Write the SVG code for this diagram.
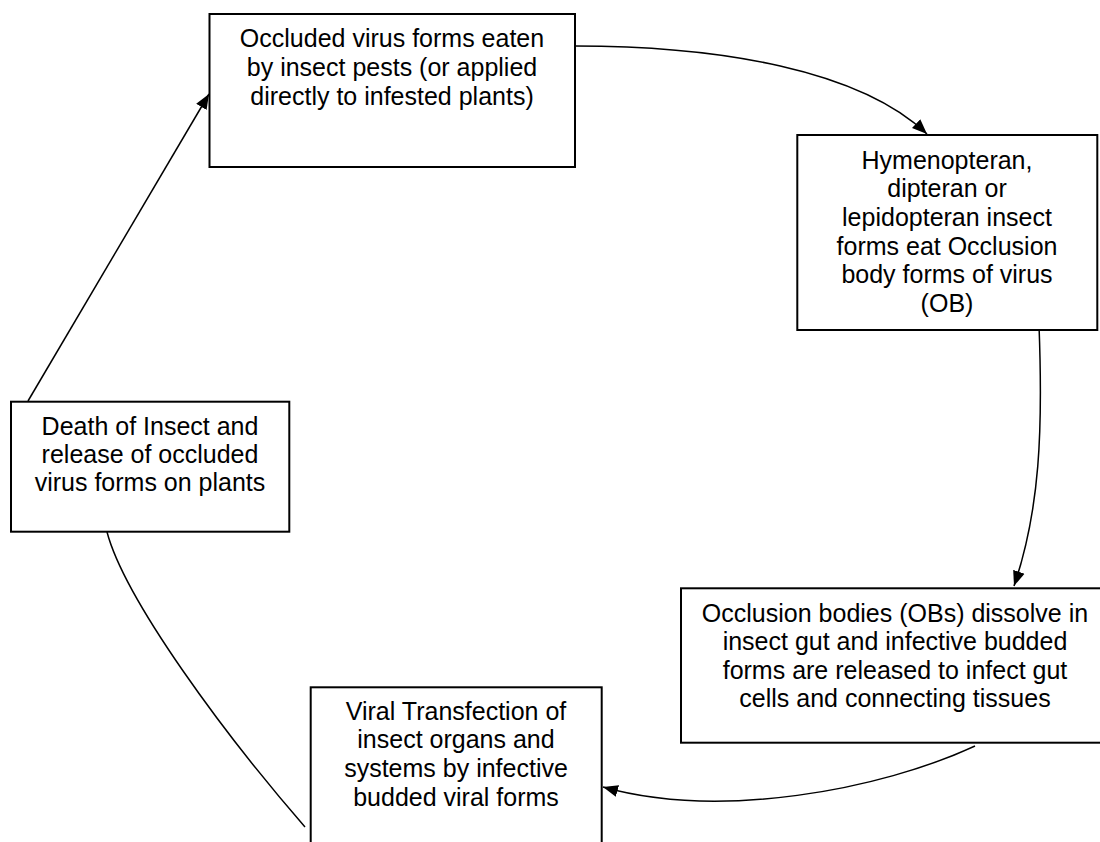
<svg xmlns="http://www.w3.org/2000/svg" width="1100" height="842" viewBox="0 0 1100 842">
<style>
.box{fill:#fff;stroke:#000;stroke-width:2}
.lbl{font-family:"Liberation Sans",Arial,sans-serif;font-size:25px;fill:#000;text-anchor:middle}
.con{fill:none;stroke:#000;stroke-width:1.5}
</style>
<defs>
<marker id="arr" markerUnits="userSpaceOnUse" markerWidth="18" markerHeight="14" refX="15" refY="7" orient="auto">
<path d="M0,1 L15,7 L0,13 Z" fill="#000"/>
</marker>
</defs>
<rect width="1100" height="842" fill="#fff"/>
<g id="connectors">
<path class="con" d="M575,46 C720,46 860,70 927,134" marker-end="url(#arr)"/>
<path class="con" d="M1039,325 C1043,430 1040,510 1014,586" marker-end="url(#arr)"/>
<path class="con" d="M975,746 C880,790 720,820 603,787" marker-end="url(#arr)"/>
<path class="con" d="M107,532 C125,600 225,735 305,827"/>
<path class="con" d="M28,401 L209,94" marker-end="url(#arr)"/>
</g>
<g id="node1">
<rect class="box" x="209.5" y="14" width="365.5" height="153"/>
<text class="lbl" x="392" y="47">Occluded virus forms eaten</text>
<text class="lbl" x="392" y="75.75">by insect pests (or applied</text>
<text class="lbl" x="392" y="104.5">directly to infested plants)</text>
</g>
<g id="node2">
<rect class="box" x="797.3" y="135" width="300" height="195"/>
<text class="lbl" x="947" y="168.5">Hymenopteran,</text>
<text class="lbl" x="947" y="197.2">dipteran or</text>
<text class="lbl" x="947" y="225.9">lepidopteran insect</text>
<text class="lbl" x="947" y="254.6">forms eat Occlusion</text>
<text class="lbl" x="947" y="283.3">body forms of virus</text>
<text class="lbl" x="947" y="312">(OB)</text>
</g>
<g id="node3">
<rect class="box" x="681" y="588.3" width="430" height="154.4"/>
<text class="lbl" x="895" y="621.5">Occlusion bodies (OBs) dissolve in</text>
<text class="lbl" x="895" y="650">insect gut and infective budded</text>
<text class="lbl" x="895" y="678.5">forms are released to infect gut</text>
<text class="lbl" x="895" y="707">cells and connecting tissues</text>
</g>
<g id="node4">
<rect class="box" x="310.7" y="687.3" width="291" height="200"/>
<text class="lbl" x="456" y="719.5">Viral Transfection of</text>
<text class="lbl" x="456" y="748.4">insect organs and</text>
<text class="lbl" x="456" y="777.3">systems by infective</text>
<text class="lbl" x="456" y="806.2">budded viral forms</text>
</g>
<g id="node5">
<rect class="box" x="11" y="401.7" width="278.3" height="130"/>
<text class="lbl" x="150" y="435">Death of Insect and</text>
<text class="lbl" x="150" y="463">release of occluded</text>
<text class="lbl" x="150" y="491">virus forms on plants</text>
</g>
</svg>
